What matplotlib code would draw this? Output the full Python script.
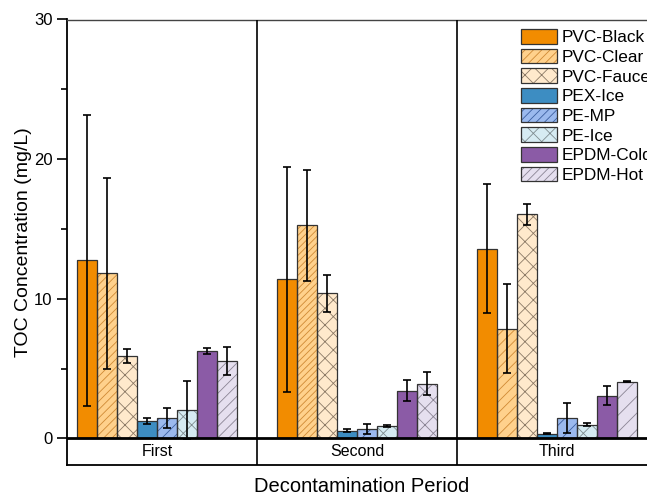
import numpy as np
import matplotlib.pyplot as plt
from matplotlib.patches import Patch

plt.rcParams["font.family"] = ["Liberation Sans", "DejaVu Sans"]
plt.rcParams["hatch.linewidth"] = 0.6

# Data (TOC, mg/L)
periods = ["First", "Second", "Third"]
series = ["PVC-Black", "PVC-Clear", "PVC-Faucet", "PEX-Ice",
          "PE-MP", "PE-Ice", "EPDM-Cold", "EPDM-Hot"]

first_mean = [12.75, 11.83, 5.93, 1.26, 1.48, 2.05, 6.26, 5.55]
first_err = [10.4, 6.83, 0.5, 0.22, 0.7, 2.09, 0.19, 0.97]
second_mean = [11.4, 15.25, 10.4, 0.57, 0.67, 0.9, 3.43, 3.93]
second_err = [8.05, 3.95, 1.33, 0.1, 0.38, 0.08, 0.75, 0.8]
third_mean = [13.6, 7.86, 16.07, 0.33, 1.48, 1.0, 3.07, 4.07]
third_err = [4.6, 3.2, 0.75, 0.04, 1.07, 0.14, 0.68, 0.05]

means = [first_mean, second_mean, third_mean]
errs = [first_err, second_err, third_err]

fill_colors = ["#F28C00", "#FFD18C", "#FFE9CC", "#3D8DC2",
               "#9BB9EE", "#D6EBF2", "#8B5BA6", "#E5DFEF"]
hatch_colors = ["#F28C00", "#D08A35", "#8C7A66", "#3D8DC2",
                "#3C5FA0", "#7F8C90", "#8B5BA6", "#8A8494"]
# hatch per period (the original changes a few between panels)
hatches = [
    [None, "////", "xx", None, "///", "xx", None, "///"],
    [None, "/////", "xx", None, "//", "xx", None, "xx"],
    [None, "///", "xx", None, "//", "xx", None, "//"],
]
legend_hatch = [None, "////", "xx", None, "////", "xx", None, "////"]
edge = "#333333"

fig = plt.figure(figsize=(6.47, 4.97), dpi=100)
ax = fig.add_axes([67 / 647, 32 / 497, 590 / 647, 445.5 / 497])

width = 0.1
x = np.arange(len(periods))
for k in range(len(series)):
    off = (k - 3.5) * width
    for g in range(len(periods)):
        xpos = x[g] + off
        ax.bar(xpos, means[g][k], width, color=fill_colors[k],
               edgecolor=hatch_colors[k], hatch=hatches[g][k],
               linewidth=0, zorder=2)
        ax.bar(xpos, means[g][k], width, fill=False, edgecolor=edge,
               linewidth=0.9, zorder=3)
        ax.errorbar(xpos, means[g][k], yerr=errs[g][k], fmt="none",
                    ecolor="black", elinewidth=1.2, capsize=3,
                    capthick=1.2, zorder=4)

ax.axhline(0, color="black", linewidth=2, zorder=5)
for sep in [0.5, 1.5]:
    ax.axvline(sep, color="black", linewidth=1.2, zorder=5)

for g, name in enumerate(periods):
    ax.text(x[g], -0.95, name, ha="center", va="center", fontsize=11.5)

ax.set_xlim(-0.45, 2.5)
ax.set_ylim(-1.9, 30)
ax.set_xticks([])
ax.set_yticks([0, 10, 20, 30])
ax.set_yticks([5, 15, 25], minor=True)
ax.tick_params(axis="y", which="major", length=7, width=1.2, labelsize=12)
ax.tick_params(axis="y", which="minor", length=4, width=1.2)
ax.spines["left"].set_linewidth(1.3)
ax.spines["bottom"].set_linewidth(1.3)
ax.spines["top"].set_color("#444444")
ax.spines["top"].set_linewidth(1.0)

ax.set_ylabel("TOC Concentration (mg/L)", fontsize=14, labelpad=1)
ax.set_xlabel("Decontamination Period", fontsize=14.5, labelpad=9)

handles = []
for k in range(len(series)):
    h1 = Patch(facecolor=fill_colors[k], edgecolor=hatch_colors[k],
               hatch=legend_hatch[k], linewidth=0)
    h2 = Patch(fill=False, edgecolor=edge, linewidth=0.9)
    handles.append((h1, h2))
ax.legend(handles, series, loc="upper left", bbox_to_anchor=(0.754, 1.0),
          frameon=False, fontsize=12.4, handlelength=2.1, handleheight=0.93,
          labelspacing=0.2, handletextpad=0.25, borderaxespad=0.15)

fig.savefig("out.png", dpi=100)
